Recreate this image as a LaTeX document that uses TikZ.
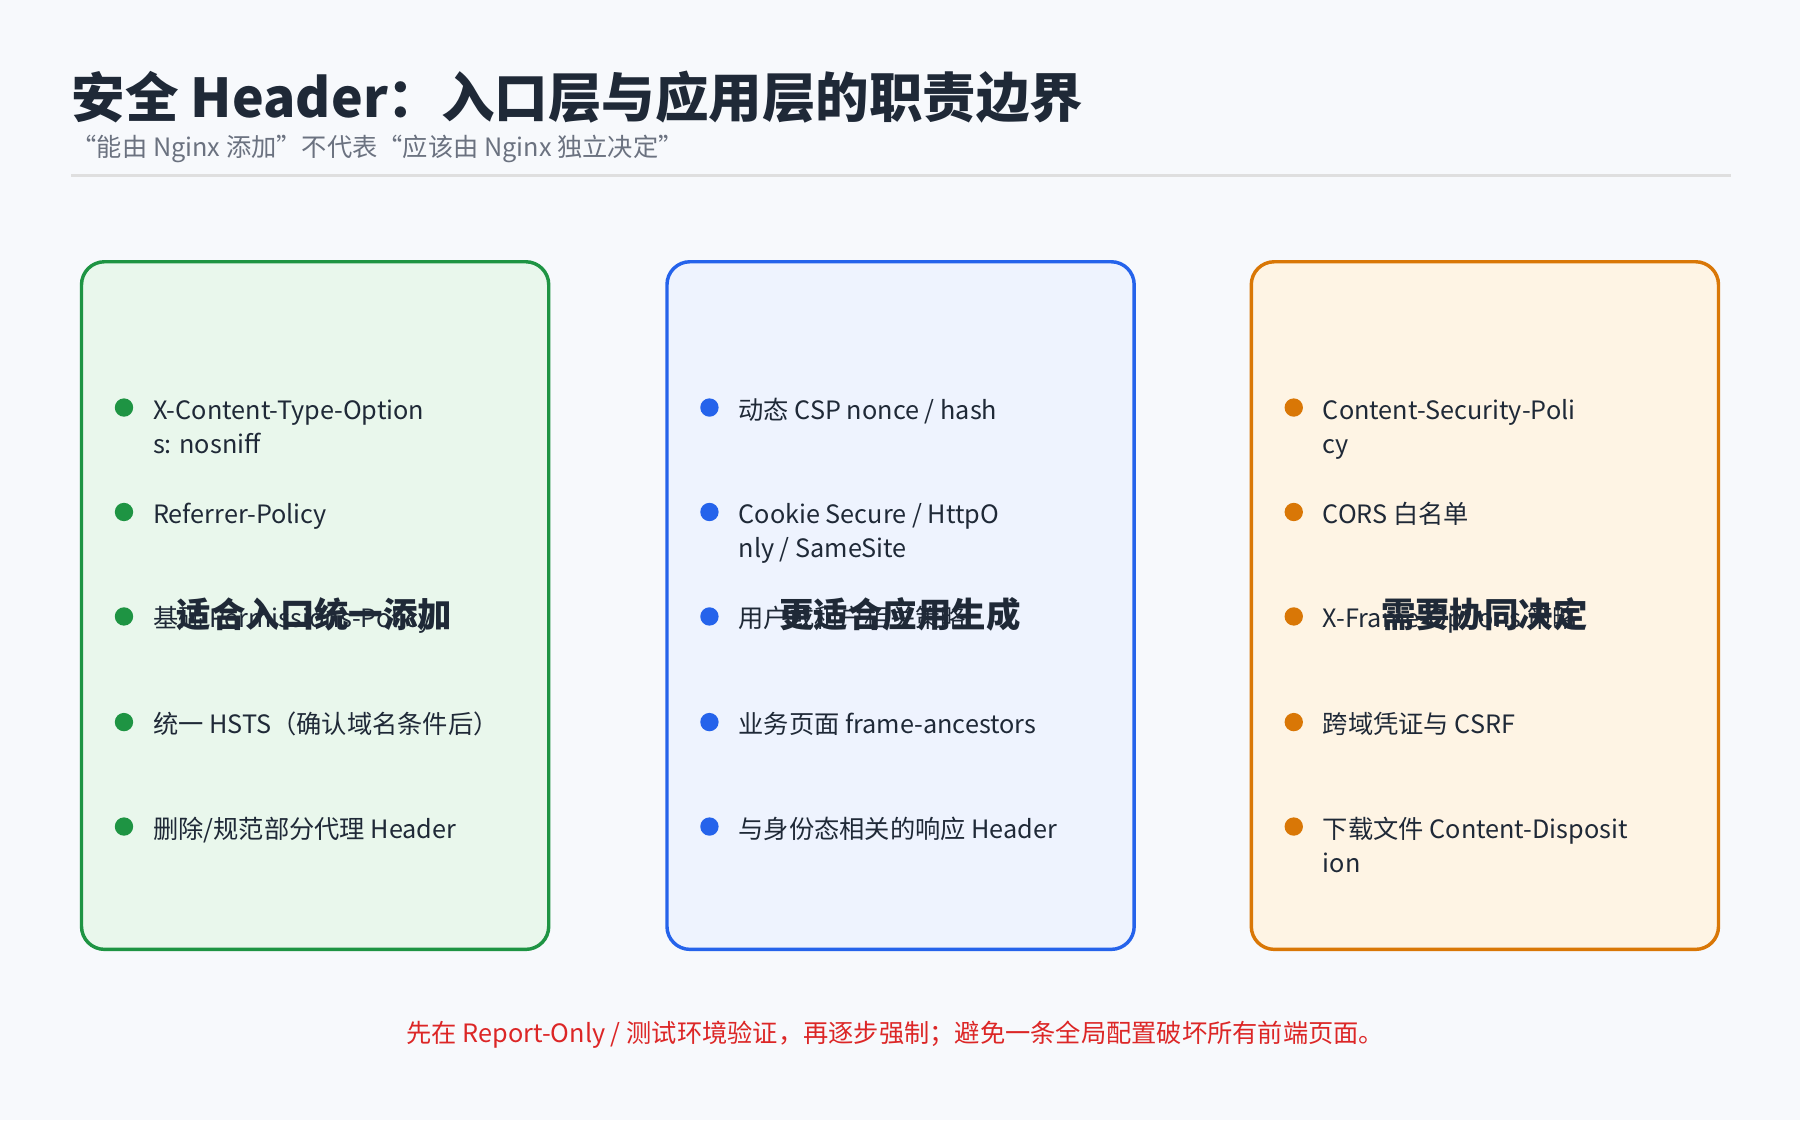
\documentclass[tikz,border=0pt]{standalone}
\usepackage{fontspec}
\setmainfont{Noto Sans CJK SC}
\begin{document}
\definecolor{bg}{HTML}{F7F9FC}
\definecolor{gB}{HTML}{1E9443}\definecolor{gF}{HTML}{E9F7EC}
\definecolor{bB}{HTML}{2563EB}\definecolor{bF}{HTML}{EEF3FE}
\definecolor{oB}{HTML}{D97706}\definecolor{oF}{HTML}{FEF4E4}
\definecolor{ttl}{HTML}{1F2937}\definecolor{sub}{HTML}{6B7280}
\definecolor{txt}{HTML}{1F2937}\definecolor{red}{HTML}{DC2626}
\begin{tikzpicture}[x=0.5pt,y=-0.5pt,
 box/.style={draw,line width=1.5pt,rounded corners=10pt},
 bt/.style={anchor=base west,font=\fontsize{11}{15}\selectfont,text=txt,inner sep=0},
 hd/.style={anchor=base,font=\fontsize{15}{18}\selectfont\bfseries,text=ttl,inner sep=0}]
\fill[bg] (0,0) rectangle (1568,976);
\useasboundingbox (0,0) rectangle (1568,976);
\node[anchor=base west,inner sep=0,font=\fontsize{23.3}{28}\selectfont\bfseries,text=ttl] (title) at (62,102) {安全 Header：入口层与应用层的职责边界};
\node[anchor=base west,inner sep=0,font=\fontsize{11}{14}\selectfont,text=sub] (subt) at (62,136) {“能由 Nginx 添加”不代表“应该由 Nginx 独立决定”};
\draw[gray!25,line width=1pt] (62,153) -- (1508,153);
\foreach \n/\x/\b/\f in {g/71/gB/gF,b/581/bB/bF,o/1090/oB/oF}{
 \draw[box,draw=\b,fill=\f] (\x,228) rectangle ++(407,599);
}
\def\rows{357,448,539,631,722}
\newcommand\items[3]{%
 \foreach \t/\s [count=\i] in {#3}{
  \pgfmathsetmacro\yy{{\rows}[\i-1]}
  \fill[#2] (#1+37,\yy-2) circle (8);
  \node[bt] at (#1+62,\yy+8) {\t};
  \node[bt] at (#1+62,\yy+38) {\s};
 }}
\items{71}{gB}{X-Content-Type-Option/s: nosniff,Referrer-Policy/,基础 Permissions-Policy/,统一 HSTS（确认域名条件后）/,删除{/}规范部分代理 Header/}
\items{581}{bB}{动态 CSP nonce {/} hash/,Cookie Secure {/} HttpO/nly {/} SameSite,用户或租户相关策略/,业务页面 frame-ancestors/,与身份态相关的响应 Header/}
\items{1090}{oB}{Content-Security-Poli/cy,CORS 白名单/,X-Frame-Options 策略/,跨域凭证与 CSRF/,下载文件 Content-Disposit/ion}
\node[hd] (h1) at (274,547) {适合入口统一添加};
\node[hd] (h2) at (784,547) {更适合应用生成};
\node[hd] (h3) at (1293,547) {需要协同决定};
\node[anchor=base,inner sep=0,font=\fontsize{11}{14}\selectfont,text=red] (foot) at (780,908) {先在 Report-Only / 测试环境验证，再逐步强制；避免一条全局配置破坏所有前端页面。};
\end{tikzpicture}
\end{document}
